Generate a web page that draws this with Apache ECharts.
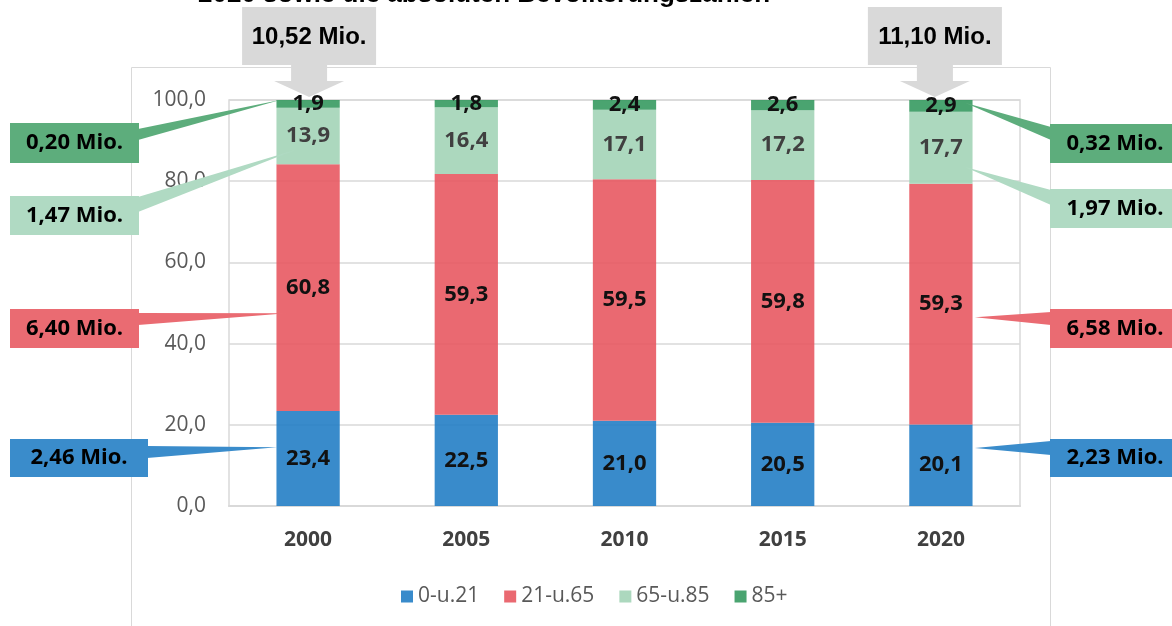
<!DOCTYPE html>
<html>
<head>
<meta charset="utf-8">
<script src="https://cdn.jsdelivr.net/npm/echarts@6/dist/echarts.min.js"></script>
<style>
    html, body { margin: 0; padding: 0; background: #fff; }
    #chart { width: 1172px; height: 626px; }
</style>
</head>
<body>
<div id="chart"></div>
<script>
    // Daten
    const years = ['2000', '2005', '2010', '2015', '2020'];
    const ageGroups = ['0-u.21', '21-u.65', '65-u.85', '85+'];
    const shareU21 = [23.4, 22.5, 21.0, 20.5, 20.1];
    const share21to65 = [60.8, 59.3, 59.5, 59.8, 59.3];
    const share65to85 = [13.9, 16.4, 17.1, 17.2, 17.7];
    const share85plus = [1.9, 1.8, 2.4, 2.6, 2.9];
    const totalMio = ['10,52 Mio.', '11,10 Mio.'];
    const mioFirst = ['2,46 Mio.', '6,40 Mio.', '1,47 Mio.', '0,20 Mio.'];
    const mioLast = ['2,23 Mio.', '6,58 Mio.', '1,97 Mio.', '0,32 Mio.'];
    const titleText = '2020 sowie die absoluten Bevölkerungszahlen';

    // Farben
    const barColors = ['rgba(36,126,197,0.9)', 'rgba(232,89,98,0.9)', 'rgba(163,212,183,0.9)', 'rgba(54,154,96,0.9)'];
    const boxColors = ['#3a8ccb', '#ea6b72', '#b0dac3', '#5dad7c'];
    const labelColors = ['#111', '#111', '#404040', '#111'];

    // Lage der Beschriftungskästen (links / rechts)
    const leftBoxes = [
        {y: 439, h: 38, w: 138, base: [446, 458], dx: -31, v: 14.5},
        {y: 309, h: 39, w: 129, base: [313, 325], dx: -21, v: 47.5},
        {y: 196, h: 39, w: 129, base: [197, 212], dx: -13, v: 87.7},
        {y: 123, h: 40, w: 129, base: [129, 140], dx: -28, v: 100}
    ];
    const rightBoxes = [
        {y: 439, h: 38, base: [441, 455], dx: 34, v: 14.3},
        {y: 309, h: 39, base: [312, 325], dx: 34, v: 46.5},
        {y: 189, h: 39, base: [190, 205], dx: 24, v: 83.5},
        {y: 124, h: 39, base: [127, 140], dx: 24, v: 99.3}
    ];

    const fmt = v => v.toFixed(1).replace('.', ',');
    const seriesData = [shareU21, share21to65, share65to85, share85plus];

    const chartDom = document.getElementById('chart');
    const myChart = echarts.init(chartDom);

    let option = {
        animation: false,
        grid: {
            left: 229,
            right: 152,
            top: 100,
            bottom: 120,
            show: true,
            borderColor: '#d9d9d9',
            borderWidth: 1.5
        },
        legend: {
            data: ageGroups,
            left: 396,
            top: 581,
            icon: 'rect',
            itemWidth: 12,
            itemHeight: 12,
            itemGap: 25,
            textStyle: {
                color: '#595959',
                fontSize: 21,
                fontFamily: 'Open Sans'
            }
        },
        xAxis: {
            type: 'category',
            data: years,
            axisTick: {show: false},
            axisLine: {lineStyle: {color: '#d9d9d9', width: 2}},
            axisLabel: {
                color: '#404040',
                fontSize: 21,
                fontWeight: 'bold',
                fontFamily: 'Open Sans',
                margin: 24
            }
        },
        yAxis: {
            type: 'value',
            min: 0,
            max: 100,
            interval: 20,
            axisLine: {show: false},
            axisTick: {show: false},
            axisLabel: {
                color: '#595959',
                fontSize: 21,
                fontFamily: 'Open Sans',
                margin: 23,
                formatter: fmt
            },
            splitLine: {lineStyle: {color: '#d9d9d9', width: 1.5}}
        },
        series: ageGroups.map((name, i) => ({
            name: name,
            type: 'bar',
            stack: 'anteil',
            barWidth: '40%',
            data: seriesData[i],
            itemStyle: {color: barColors[i]},
            label: {
                show: true,
                position: 'inside',
                color: labelColors[i],
                fontSize: 22,
                fontWeight: 'bold',
                fontFamily: 'Open Sans',
                formatter: p => fmt(p.value)
            }
        }))
    };
    myChart.setOption(option);

    //  Kästen und Pfeile
    const px = (cat, val) => myChart.convertToPixel({gridIndex: 0}, [cat, val]);
    const graphics = [];

    graphics.push({
        type: 'rect',
        shape: {x: 131.5, y: 67.5, width: 919, height: 620},
        style: {fill: 'none', stroke: '#d9d9d9', lineWidth: 1},
        z: -1,
        silent: true
    });
    graphics.push({
        type: 'text',
        style: {
            text: titleText, x: 198, y: -5,
            textAlign: 'left', textVerticalAlign: 'middle',
            align: 'left', verticalAlign: 'middle',
            font: 'bold 26px "Liberation Sans", Arial', fill: '#000'
        },
        z: 100
    });

    function topArrow(cx, tipY, text) {
        graphics.push({
            type: 'polygon',
            shape: {points: [
                [cx - 67, 7], [cx + 67, 7], [cx + 67, 65], [cx + 18, 65], [cx + 18, 81],
                [cx + 35, 81], [cx, tipY], [cx - 35, 81], [cx - 18, 81], [cx - 18, 65], [cx - 67, 65]
            ]},
            style: {fill: '#d9d9d9'},
            z: 100
        });
        graphics.push({
            type: 'text',
            style: {
                text: text, x: cx, y: 37,
                textAlign: 'center', textVerticalAlign: 'middle',
                align: 'center', verticalAlign: 'middle',
                font: 'bold 24px "Liberation Sans", Arial', fill: '#000'
            },
            z: 101
        });
    }
    const firstTop = px(years[0], 100);
    const lastTop = px(years[years.length - 1], 100);
    topArrow(firstTop[0] + 1, firstTop[1] - 3, totalMio[0]);
    topArrow(lastTop[0] - 6, lastTop[1] - 3, totalMio[1]);

    function sideBox(x, b, w, tip, edgeX, color, text) {
        graphics.push({
            type: 'polygon',
            shape: {points: [[edgeX, b.base[0]], tip, [edgeX, b.base[1]]]},
            style: {fill: color},
            z: 100
        });
        graphics.push({
            type: 'rect',
            shape: {x: x, y: b.y, width: w, height: b.h},
            style: {fill: color},
            z: 100
        });
        graphics.push({
            type: 'text',
            style: {
                text: text, x: x + w / 2, y: b.y + b.h / 2,
                textAlign: 'center', textVerticalAlign: 'middle',
                align: 'center', verticalAlign: 'middle',
                font: 'bold 22px "Open Sans"', fill: '#000'
            },
            z: 101
        });
    }
    leftBoxes.forEach(function (b, i) {
        const p = px(years[0], b.v);
        sideBox(10, b, b.w, [p[0] + b.dx, p[1]], 10 + b.w - 1, boxColors[i], mioFirst[i]);
    });
    rightBoxes.forEach(function (b, i) {
        const p = px(years[years.length - 1], b.v);
        sideBox(1050, b, 130, [p[0] + b.dx, p[1]], 1051, boxColors[i], mioLast[i]);
    });

    myChart.setOption({graphic: {elements: graphics}});
</script>
</body>
</html>
